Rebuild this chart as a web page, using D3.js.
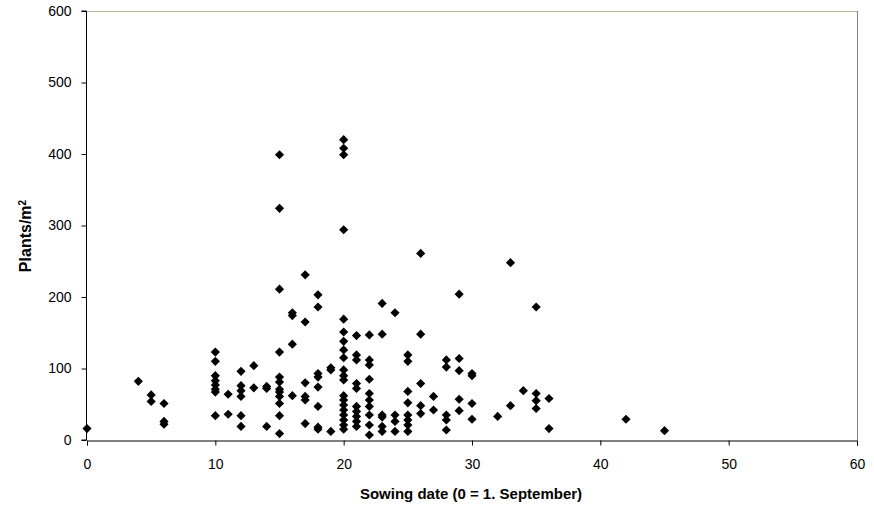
<!DOCTYPE html>
<html>
<head>
<meta charset="utf-8">
<script src="https://cdn.jsdelivr.net/npm/d3@7"></script>
<style>
  html, body { margin: 0; padding: 0; background: #fff; }
  svg { display: block; font-family: "Liberation Sans", Arial, sans-serif; }
</style>
</head>
<body>
<svg id="chart" width="874" height="513"></svg>
<script>
// Sowing date (days after 1 September) for each observation
const sowingDate = [
  0,
  4,
  5, 5,
  6, 6, 6,
  10, 10, 10, 10, 10, 10, 10, 10,
  11, 11,
  12, 12, 12, 12, 12, 12,
  13, 13,
  14, 14, 14,
  15, 15, 15, 15, 15, 15, 15, 15, 15, 15, 15, 15,
  16, 16, 16, 16,
  17, 17, 17, 17, 17, 17,
  18, 18, 18, 18, 18, 18, 18, 18,
  19, 19, 19,
  20, 20, 20, 20, 20, 20, 20, 20, 20, 20, 20, 20, 20, 20, 20, 20, 20, 20, 20, 20,
  21, 21, 21, 21, 21, 21, 21, 21, 21, 21,
  22, 22, 22, 22, 22, 22, 22, 22, 22, 22,
  23, 23, 23, 23, 23, 23,
  24, 24, 24, 24,
  25, 25, 25, 25, 25, 25, 25, 25,
  26, 26, 26, 26, 26,
  27, 27,
  28, 28, 28, 28, 28,
  29, 29, 29, 29, 29,
  30, 30, 30, 30,
  32,
  33, 33,
  34,
  35, 35, 35, 35,
  36, 36,
  42,
  45
];
// Plants per m2 for each observation
const plantsPerM2 = [
  16,
  82,
  63, 54,
  51, 26, 22,
  123, 110, 90, 83, 77, 71, 67, 34,
  64, 36,
  96, 76, 69, 61, 34, 19,
  104, 73,
  75, 72, 19,
  399, 324, 211, 123, 88, 81, 71, 67, 61, 51, 34, 9,
  178, 174, 134, 62,
  231, 165, 80, 61, 56, 23,
  203, 186, 93, 88, 74, 47, 18, 15,
  101, 98, 12,
  420, 408, 399, 294, 169, 151, 138, 126, 115, 98, 90, 84, 62, 56, 49, 42, 35, 28, 21, 15,
  146, 119, 112, 79, 72, 47, 40, 33, 26, 19,
  147, 112, 105, 85, 65, 56, 47, 35, 21, 7,
  191, 148, 35, 32, 19, 12,
  178, 35, 26, 12,
  119, 110, 68, 52, 35, 28, 21, 12,
  261, 148, 79, 48, 37,
  61, 42,
  112, 102, 35, 28, 14,
  204, 114, 97, 57, 41,
  93, 90, 51, 29,
  33,
  248, 48,
  69,
  186, 65, 55, 44,
  58, 16,
  29,
  13
];
const xTicks = [0, 10, 20, 30, 40, 50, 60];
const yTicks = [0, 100, 200, 300, 400, 500, 600];
const xTitle = "Sowing date (0 = 1. September)";

const svg = d3.select("#chart");
const pLeft = 87, pRight = 857, pTop = 11, pBottom = 440;

const x = d3.scaleLinear().domain([0, 60]).range([pLeft, pRight]);
const y = d3.scaleLinear().domain([0, 600]).range([pBottom, pTop]);

// plot frame (top and right)
svg.append("line").attr("x1", pLeft).attr("x2", pRight).attr("y1", pTop + 0.5).attr("y2", pTop + 0.5)
  .attr("stroke", "#b4b496").attr("stroke-width", 1);
svg.append("line").attr("x1", pRight + 0.5).attr("x2", pRight + 0.5).attr("y1", pTop).attr("y2", pBottom)
  .attr("stroke", "#808080").attr("stroke-width", 1);

// axes
const xAxis = d3.axisBottom(x).tickValues(xTicks).tickSize(5).tickPadding(14).tickFormat(d3.format("d"));
const yAxis = d3.axisLeft(y).tickValues(yTicks).tickSize(5).tickPadding(10).tickFormat(d3.format("d"));

const gx = svg.append("g").attr("transform", `translate(0,${pBottom + 0.5})`).call(xAxis);
const gy = svg.append("g").attr("transform", `translate(${pLeft - 0.5},0)`).call(yAxis);
[gx, gy].forEach(g => {
  g.select(".domain").attr("stroke", "#000").attr("stroke-width", 1);
  g.selectAll(".tick line").attr("stroke", "#000");
  g.selectAll(".tick text").attr("fill", "#000")
    .style("font-family", "'Liberation Sans', Arial, sans-serif").style("font-size", "14px");
});
gy.select(".domain").attr("d", `M-5,${y(0)}H0V${y(600)}H-5`);

// points
const diamond = d3.symbol().type(d3.symbolSquare).size(42)();
const pts = sowingDate.map((d, i) => ({ d: d, v: plantsPerM2[i] }));
svg.append("g").selectAll("path").data(pts).join("path")
  .attr("d", diamond)
  .attr("transform", p => `translate(${x(p.d)},${y(p.v)}) rotate(45)`)
  .attr("fill", "#000");

// axis titles
svg.append("text")
  .attr("x", (pLeft + pRight) / 2 - 1).attr("y", 499)
  .attr("text-anchor", "middle")
  .style("font-size", "15px").style("font-weight", "bold")
  .text(xTitle);

const yt = svg.append("text")
  .attr("transform", `translate(31,236) rotate(-90)`)
  .attr("text-anchor", "middle")
  .style("font-size", "16px").style("font-weight", "bold");
yt.append("tspan").text("Plants/m");
yt.append("tspan").attr("dy", "-0.55em").style("font-size", "10px").text("2");
</script>
</body>
</html>
